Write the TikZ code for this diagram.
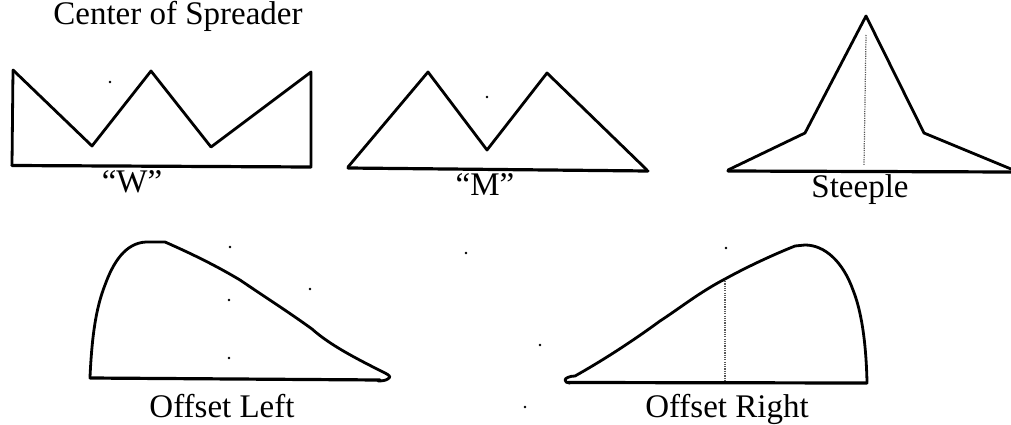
\documentclass[tikz,border=0pt]{standalone}
\usepackage{fontspec}
\setmainfont{Liberation Serif}
\tikzset{
  curve/.style={draw=black,line width=2.8pt,line join=round,line cap=round},
  baseline rule/.style={draw=black,line width=3.2pt,line cap=round},
  centre mark/.style={draw=black!65,line width=1.2pt,dash pattern=on 1.2pt off 1.1pt},
  caption/.style={anchor=base,inner sep=0pt,font=\fontsize{33}{33}\selectfont,text=black},
  speck/.style={fill=black,draw=none,circle,minimum size=2.6pt,inner sep=0pt}
}
\begin{document}
\begin{tikzpicture}[x=1pt,y=-1pt]
\useasboundingbox (0,0) rectangle (1011,425);
% W
\draw[curve] (13,70) -- (92,146) -- (151,71) -- (211,147) -- (311,72) -- (311,166);
\draw[curve] (13,70) -- (12,165);
\draw[baseline rule] (12,165.5) -- (311,167);
\node[caption] (title) at (178,25) {Center of Spreader};
\node[caption] (w) at (132,192) {“W”};
% M
\draw[curve] (348,167) -- (428,72) -- (487,150) -- (547,73) -- (647,170);
\draw[baseline rule] (348,168) -- (648,171);
\node[caption] (m) at (485,195) {“M”};
% Steeple
\draw[curve] (728,170) -- (805,133) -- (866,16) -- (924,133) -- (1011,169);
\draw[baseline rule] (728,171) -- (1011,172);
\draw[centre mark] (866,35) -- (864,165);
\node[caption] (steeple) at (860,197) {Steeple};
% Offset left
\draw[curve] (90,377) .. controls (92,335) and (96,308) .. (105,285)
  .. controls (113,263) and (125,243) .. (146,242)
  -- (165,242)
  .. controls (190,253) and (215,265) .. (240,280)
  .. controls (265,297) and (290,313) .. (312,329)
  .. controls (330,345) and (355,358) .. (385,373)
  .. controls (389,375) and (391,377) .. (389,378)
  .. controls (387,380) and (384,381) .. (378,381);
\draw[baseline rule] (90,378) -- (380,380);
\node[caption] (left) at (222,417) {Offset Left};
% Offset right
\draw[curve] (867,382) .. controls (866,340) and (861,310) .. (853,290)
  .. controls (843,262) and (825,245) .. (805,245)
  -- (795,246)
  .. controls (770,256) and (745,268) .. (725,279)
  .. controls (700,292) and (680,308) .. (660,321)
  .. controls (630,343) and (600,362) .. (575,376)
  .. controls (570,376) and (565,378) .. (565,380)
  .. controls (565,382) and (567,383) .. (570,383);
\draw[baseline rule] (568,382.5) -- (867,383);
\draw[centre mark] (725,281) -- (725,380);
\node[caption] (right) at (727,417.5) {Offset Right};
% specks
\node[speck] (s1) at (110,82) {};
\node[speck] (s2) at (487,97) {};
\node[speck] (s3) at (230,247) {};
\node[speck] (s4) at (229,300) {};
\node[speck] (s5) at (229,358) {};
\node[speck] (s6) at (310,289) {};
\node[speck] (s7) at (466,253) {};
\node[speck] (s8) at (726,248) {};
\node[speck] (s9) at (540,345) {};
\node[speck] (s10) at (525,407) {};
\end{tikzpicture}
\end{document}
